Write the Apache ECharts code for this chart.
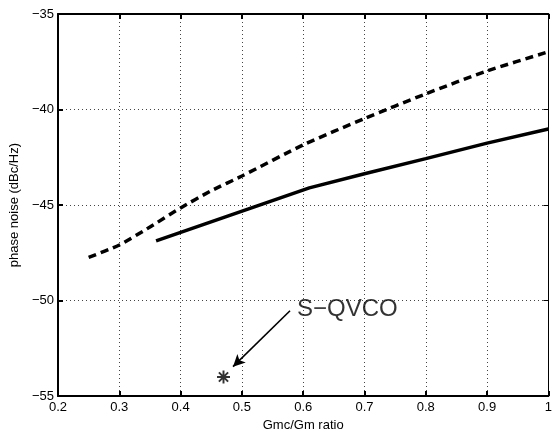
<!DOCTYPE html>
<html>
<head>
<meta charset="utf-8">
<script src="https://cdn.jsdelivr.net/npm/echarts@6/dist/echarts.min.js"></script>
<style>
html,body{margin:0;padding:0;background:#fff;}
#chart{width:555px;height:437px;}
</style>
</head>
<body>
<div id="chart"></div>
<script>
// Data
const xDashed = [0.25, 0.30, 0.35, 0.40, 0.45, 0.50, 0.60, 0.70, 0.80, 0.90, 1.00];
const yDashed = [-47.74, -47.09, -46.15, -45.15, -44.25, -43.48, -41.85, -40.47, -39.18, -37.98, -36.98];
const xSolid = [0.36, 0.61, 0.70, 0.80, 0.90, 1.00];
const ySolid = [-46.88, -44.1, -43.36, -42.57, -41.76, -41.02];
const starPoint = [0.47, -54.0];
const labelText = 'S\u2212QVCO';
const labelAnchor = [0.59, -50.45];
const arrowFrom = [0.5785, -50.53];
const arrowTo = [0.4855, -53.46];
const xTicks = {min: 0.2, max: 1.0, interval: 0.1};
const yTicks = {min: -55, max: -35, interval: 5};

const FONT = '"Liberation Sans", Arial, Helvetica, sans-serif';
const zip = (xs, ys) => xs.map((x, i) => [x, ys[i]]);

const starPath = 'path://M0 10.2 H24 V13.8 H0 Z M10.2 0 H13.8 V24 H10.2 Z M2.2 4.8 L4.8 2.2 L21.8 19.2 L19.2 21.8 Z M19.2 2.2 L21.8 4.8 L4.8 21.8 L2.2 19.2 Z';

const gridLine = {show: true, lineStyle: {color: '#444', type: [1, 3], width: 1}};

const chart = echarts.init(document.getElementById('chart'), null, {renderer: 'canvas'});
chart.setOption({
  animation: false,
  backgroundColor: '#fff',
  grid: {left: 58, right: 1, top: 14, bottom: 35, containLabel: false},
  xAxis: [{
    type: 'value', min: xTicks.min, max: xTicks.max, interval: xTicks.interval,
    position: 'bottom',
    name: 'Gmc/Gm ratio', nameLocation: 'middle', nameGap: 17,
    nameTextStyle: {fontFamily: FONT, fontSize: 13, color: '#000'},
    axisLine: {show: true, onZero: false, lineStyle: {color: '#000', width: 2}},
    axisTick: {show: true, inside: true, length: 5, lineStyle: {color: '#000', width: 2}},
    axisLabel: {fontFamily: FONT, fontSize: 13, color: '#000', margin: 5,
      formatter: v => String(+v.toFixed(1))},
    splitLine: gridLine
  }, {
    type: 'value', min: xTicks.min, max: xTicks.max, interval: xTicks.interval,
    position: 'top',
    axisLine: {show: true, onZero: false, lineStyle: {color: '#000', width: 2}},
    axisTick: {show: true, inside: true, length: 5, lineStyle: {color: '#000', width: 2}},
    axisLabel: {show: false}, splitLine: {show: false}
  }],
  yAxis: [{
    type: 'value', min: yTicks.min, max: yTicks.max, interval: yTicks.interval,
    position: 'left',
    name: 'phase noise (dBc/Hz)', nameLocation: 'middle', nameGap: 27,
    nameTextStyle: {fontFamily: FONT, fontSize: 13, color: '#000'},
    axisLine: {show: true, onZero: false, lineStyle: {color: '#000', width: 2}},
    axisTick: {show: true, inside: true, length: 5, lineStyle: {color: '#000', width: 2}},
    axisLabel: {fontFamily: FONT, fontSize: 13, color: '#000', margin: 4,
      formatter: v => String(v).replace('-', '\u2212')},
    splitLine: gridLine
  }, {
    type: 'value', min: yTicks.min, max: yTicks.max, interval: yTicks.interval,
    position: 'right',
    axisLine: {show: true, onZero: false, lineStyle: {color: '#000', width: 1}},
    axisTick: {show: true, inside: true, length: 5, lineStyle: {color: '#000', width: 1}},
    axisLabel: {show: false}, splitLine: {show: false}
  }],
  series: [{
    name: 'dashed', type: 'line', data: zip(xDashed, yDashed),
    smooth: 0.2,
    showSymbol: false, symbol: 'none',
    lineStyle: {color: '#000', width: 3.5, type: [8, 5]}
  }, {
    name: 'solid', type: 'line', data: zip(xSolid, ySolid),
    showSymbol: false, symbol: 'none',
    lineStyle: {color: '#000', width: 3.5}
  }, {
    name: 'S-QVCO', type: 'scatter', data: [starPoint],
    symbol: starPath, symbolSize: 13, itemStyle: {color: '#000'}
  }, {
    name: 'label', type: 'scatter', data: [labelAnchor], symbolSize: 0,
    label: {show: true, position: 'right', distance: 0, formatter: labelText,
      fontFamily: FONT, fontSize: 24, color: '#000'},
    markLine: {
      silent: true, symbol: ['none', 'arrow'], symbolSize: [9, 12],
      label: {show: false},
      lineStyle: {color: '#000', width: 1.6, type: 'solid'},
      data: [[{coord: arrowFrom}, {coord: arrowTo}]]
    }
  }]
});
</script>
</body>
</html>
